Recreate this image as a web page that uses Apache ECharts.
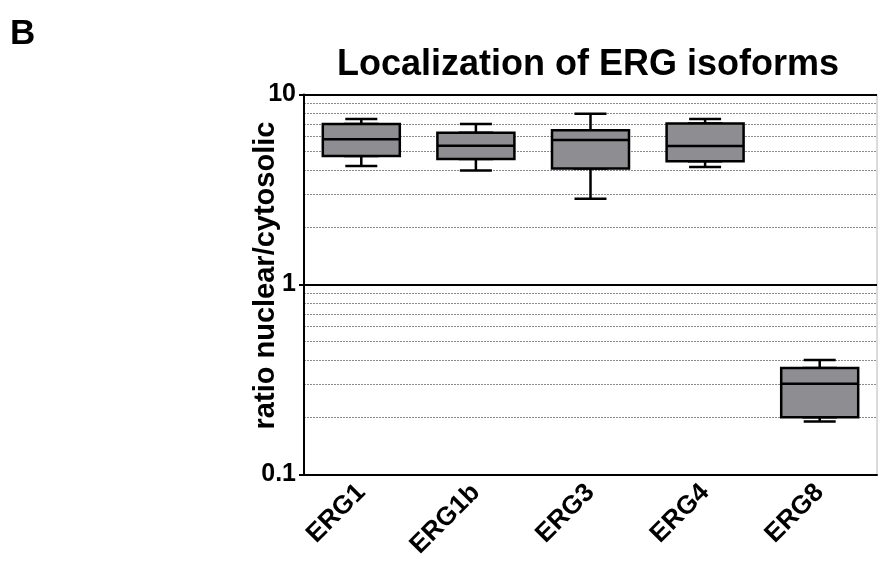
<!DOCTYPE html>
<html>
<head>
<meta charset="utf-8">
<style>
  html, body { margin: 0; padding: 0; background: #fff; }
  #chart { width: 878px; height: 565px; }
</style>
<script src="https://cdn.jsdelivr.net/npm/echarts@6/dist/echarts.min.js"></script>
</head>
<body>
<div id="chart"></div>
<script>
const categories = ["ERG1", "ERG1b", "ERG3", "ERG4", "ERG8"];
// whisker ends and box quartiles
const minVals = [4.2, 3.98, 2.83, 4.15, 0.19];
const q1Vals = [4.74, 4.58, 4.08, 4.46, 0.2];
const medianVals = [5.82, 5.37, 5.77, 5.35, 0.3];
const q3Vals = [7.0, 6.3, 6.49, 7.03, 0.364];
const maxVals = [7.43, 7.0, 7.93, 7.43, 0.4];
// dotted helper lines at 2..9 of each decade
const minorGrid = [0.2, 0.3, 0.4, 0.5, 0.6, 0.7, 0.8, 0.9, 2, 3, 4, 5, 6, 7, 8, 9];

const font = "Liberation Sans, Arial, sans-serif";

// narrow series only shows the whiskers (caps are narrower than the box)
const whiskerData = categories.map((c, i) => [minVals[i], q1Vals[i], medianVals[i], q3Vals[i], maxVals[i]]);
// wide series draws the box itself, no whiskers
const boxData = categories.map((c, i) => [q1Vals[i], q1Vals[i], medianVals[i], q3Vals[i], q3Vals[i]]);

const chart = echarts.init(document.getElementById("chart"));

const option = {
  animation: false,
  title: [
    {
      text: "B",
      left: 10,
      top: 17,
      padding: 0,
      textStyle: { fontFamily: font, fontSize: 35, fontWeight: "bold", color: "#000" },
    },
    {
      text: "Localization of ERG isoforms",
      left: 588,
      top: 47,
      padding: 0,
      textAlign: "center",
      textStyle: { fontFamily: font, fontSize: 36, fontWeight: "bold", color: "#000" },
    },
  ],
  grid: {
    left: 304,
    right: 1,
    top: 94.5,
    bottom: 90.5,
    show: true,
    borderColor: "#b8b8b8",
    borderWidth: 1,
    backgroundColor: "transparent",
  },
  xAxis: [
    {
      type: "category",
      data: categories,
      axisLine: { lineStyle: { color: "#000", width: 2 } },
      axisTick: { alignWithLabel: true, length: 5, lineStyle: { color: "#000", width: 2 } },
      axisLabel: {
        rotate: 45,
        margin: 14,
        color: "#000",
        fontFamily: font,
        fontSize: 26,
        fontWeight: "bold",
      },
      splitLine: { show: false },
    },
    {
      type: "category",
      data: categories,
      position: "bottom",
      show: false,
    },
  ],
  yAxis: {
    type: "log",
    logBase: 10,
    min: 0.1,
    max: 10,
    name: "ratio nuclear/cytosolic",
    nameLocation: "middle",
    nameGap: 24,
    nameMoveOverlap: false,
    nameTextStyle: {
      fontFamily: font,
      fontSize: 29,
      fontWeight: "bold",
      color: "#000",
      padding: [0, 0, 0, 18],
    },
    axisLine: { show: true, lineStyle: { color: "#000", width: 2 } },
    axisTick: { show: true, length: 5, lineStyle: { color: "#000", width: 2 } },
    axisLabel: {
      margin: 8,
      color: "#000",
      fontFamily: font,
      fontSize: 25,
      fontWeight: "bold",
      formatter: (v) => String(v),
    },
    splitLine: { show: true, lineStyle: { color: "#000", width: 2 } },
  },
  series: [
    {
      type: "line",
      data: [],
      silent: true,
      z: 0,
      markLine: {
        silent: true,
        symbol: "none",
        label: { show: false },
        animation: false,
        z: 0,
        lineStyle: { color: "#8a8a8a", type: [2, 1], width: 1 },
        data: minorGrid.map((v) => ({ yAxis: v })),
      },
    },
    {
      type: "boxplot",
      xAxisIndex: 1,
      data: whiskerData,
      boxWidth: [32, 32],
      silent: true,
      itemStyle: { color: "#8d8d92", borderColor: "#000", borderWidth: 2.5 },
      z: 3,
    },
    {
      type: "boxplot",
      xAxisIndex: 0,
      data: boxData,
      boxWidth: [77, 77],
      silent: true,
      itemStyle: { color: "#8d8d92", borderColor: "#000", borderWidth: 2.5 },
      z: 4,
    },
  ],
};

chart.setOption(option);
</script>
</body>
</html>
